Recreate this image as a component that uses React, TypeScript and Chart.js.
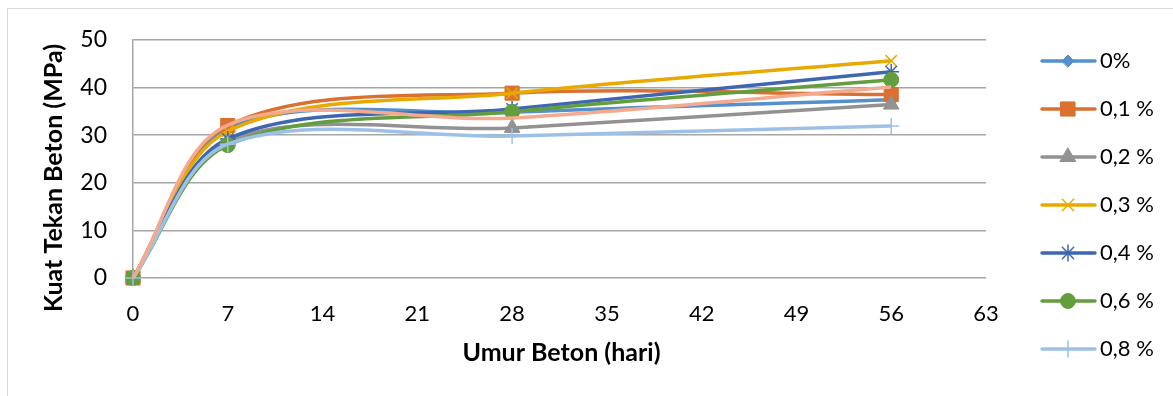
import React, { useEffect, useRef } from 'react';
import { Chart, registerables } from 'chart.js';
import { drawPoint } from 'chart.js/helpers';

Chart.register(...registerables);

// ---- data ----
const days = [0, 7, 28, 56];
const seriesNames = ['0%', '0,1 %', '0,2 %', '0,3 %', '0,4 %', '0,6 %', '0,8 %', '1 %'];
const s0 = [0, 31.4, 34.8, 37.4];
const s01 = [0, 32.0, 38.8, 38.5];
const s02 = [0, 28.8, 31.5, 36.4];
const s03 = [0, 30.8, 38.8, 45.6];
const s04 = [0, 29.2, 35.5, 43.3];
const s06 = [0, 27.9, 34.9, 41.6];
const s08 = [0, 28.1, 29.8, 31.9];
const s1 = [0, 32.1, 33.6, 40.1];
const xTicks = [0, 7, 14, 21, 28, 35, 42, 49, 56, 63];
const yTicks = [0, 10, 20, 30, 40, 50];
const xTitle = 'Umur Beton (hari)';
const yTitle = 'Kuat Tekan Beton (MPa)';

const allSeries = [s0, s01, s02, s03, s04, s06, s08, s1];
const colors = ['#5590CC', '#DA7130', '#929292', '#E8AA00', '#3F67B1', '#629E3E', '#9DC1E6', '#F3AA8E'];
const pointStyles = ['rectRot', 'rect', 'triangle', 'crossRot', 'star', 'circle', 'cross', 'line'];
const pointRadii = [7, 10, 9, 8, 8, 7.5, 8, 0];
const legendRadii = [6, 10, 9, 8, 8, 7.5, 8, 0];
const pointBorders = [1, 1, 1, 1.5, 1.5, 1, 1.5, 1];
const legendCount = 7;

const FONT = 'Lato, "Open Sans", sans-serif';

const legendPlugin = {
  id: 'customLegend',
  afterDraw(chart: any) {
    const ctx = chart.ctx;
    const area = chart.chartArea;
    ctx.save();
    // outer border
    ctx.strokeStyle = '#D9D9D9';
    ctx.lineWidth = 1;
    ctx.strokeRect(7.5, 8.5, 1200, 400);
    // axis titles
    ctx.fillStyle = '#000';
    ctx.font = `bold 25px ${FONT}`;
    ctx.textAlign = 'center';
    ctx.textBaseline = 'alphabetic';
    ctx.fillText(xTitle, (area.left + area.right) / 2 + 2, 361);
    ctx.save();
    ctx.translate(62, 178);
    ctx.rotate(-Math.PI / 2);
    ctx.fillText(yTitle, 0, 0);
    ctx.restore();
    // legend
    const x0 = 1042, x1 = 1095, mx = 1068, tx = 1100;
    for (let i = 0; i < legendCount; i++) {
      const y = 61 + i * 48;
      ctx.strokeStyle = colors[i];
      ctx.lineWidth = 3.5;
      ctx.lineCap = 'round';
      ctx.beginPath();
      ctx.moveTo(x0, y);
      ctx.lineTo(x1, y);
      ctx.stroke();
      ctx.fillStyle = colors[i];
      ctx.strokeStyle = colors[i];
      ctx.lineWidth = pointBorders[i];
      drawPoint(ctx, { pointStyle: pointStyles[i], radius: legendRadii[i], rotation: 0, borderWidth: pointBorders[i] } as any, mx, y);
      ctx.fillStyle = '#000';
      ctx.font = `22px ${FONT}`;
      ctx.textBaseline = 'middle';
      ctx.textAlign = 'left';
      ctx.fillText(seriesNames[i], tx, y);
    }
    ctx.restore();
  },
};

export default function App() {
  const ref = useRef<HTMLCanvasElement>(null);
  useEffect(() => {
    document.body.style.margin = '0';
    const datasets = allSeries.map((s, i) => ({
      label: seriesNames[i],
      data: days.map((d, j) => ({ x: d, y: s[j] })),
      borderColor: colors[i],
      backgroundColor: colors[i],
      borderWidth: 3.5,
      pointStyle: pointStyles[i] as any,
      pointRadius: pointRadii[i],
      pointBorderWidth: pointBorders[i],
      pointBackgroundColor: colors[i],
      pointBorderColor: colors[i],
      tension: 0.33,
      order: 10 - i,
      clip: false as any,
    }));
    const chart = new Chart(ref.current!, {
      type: 'line',
      data: { datasets },
      plugins: [legendPlugin],
      options: {
        animation: false,
        responsive: false,
        layout: { padding: { left: 0, top: 38, right: 187, bottom: 0 } },
        plugins: { legend: { display: false }, tooltip: { enabled: false } },
        scales: {
          x: {
            type: 'linear',
            min: 0,
            max: 63,
            afterBuildTicks: (scale: any) => {
              scale.ticks = xTicks.map((v) => ({ value: v }));
            },
            afterFit: (scale: any) => {
              scale.height = 118;
            },
            grid: { display: false, drawTicks: false },
            border: { display: false },
            ticks: { color: '#000', font: { family: FONT, size: 22 }, padding: 23, maxRotation: 0, autoSkip: false },
          },
          y: {
            type: 'linear',
            min: 0,
            max: 50,
            afterBuildTicks: (scale: any) => {
              scale.ticks = yTicks.map((v) => ({ value: v }));
            },
            afterFit: (scale: any) => {
              scale.width = 133;
            },
            grid: { color: '#A6A6A6', lineWidth: 1.5, drawTicks: false },
            border: { display: true, color: '#A6A6A6', width: 1.5 },
            ticks: { color: '#000', font: { family: FONT, size: 23 }, padding: 26 },
          },
        },
      },
    });
    return () => chart.destroy();
  }, []);
  return <canvas ref={ref} width={1173} height={396} style={{ display: 'block' }} />;
}
